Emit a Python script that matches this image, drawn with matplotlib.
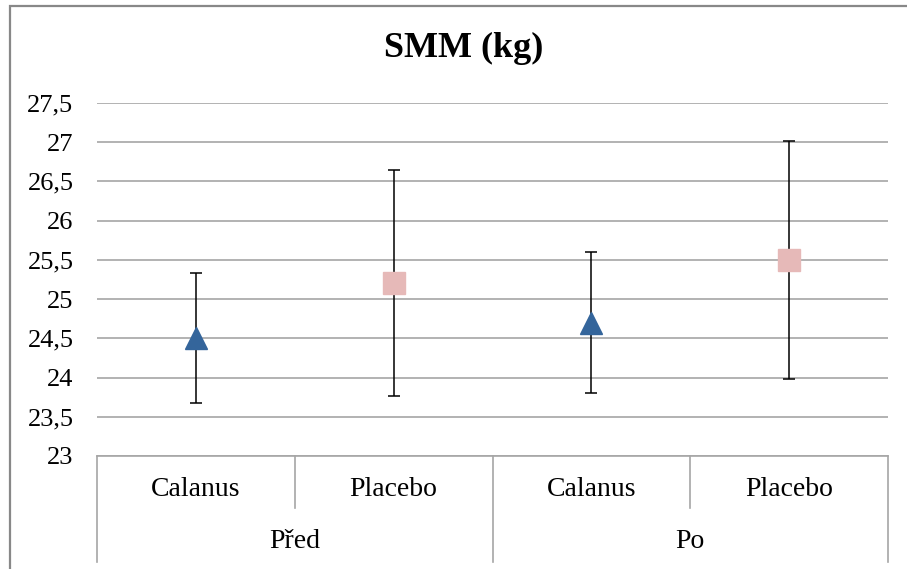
import numpy as np
import matplotlib
matplotlib.use('Agg')
import matplotlib.pyplot as plt
import matplotlib.transforms as mtransforms
from matplotlib.patches import Rectangle
from matplotlib.ticker import FuncFormatter, MultipleLocator

plt.rcParams['font.family'] = ['Liberation Serif', 'DejaVu Serif']

# data
groups = ['Před', 'Po']
treatments = ['Calanus', 'Placebo', 'Calanus', 'Placebo']
means = [24.5, 25.2, 24.7, 25.5]
sds = [0.83, 1.44, 0.90, 1.52]

blue = '#34659b'
pink = '#e6b9b8'
grid_c = '#a6a6a6'

fig = plt.figure(figsize=(9.07, 5.69), dpi=100)
W, H = 907, 569

# outer chart border (cut off at right/bottom like the reference)
fig.patches.append(Rectangle((10 / W, -0.5), 2.0, 1.5 - 5.5 / H,
                             transform=fig.transFigure, fill=False,
                             ec='#888888', lw=1.6))

ax = fig.add_axes([97 / W, (H - 456) / H, (888 - 97) / W, (456 - 103) / H])

x = np.arange(len(treatments))
for i in x:
    ax.errorbar(x[i], means[i], yerr=sds[i], fmt='none', ecolor='black',
                elinewidth=1.1, capsize=4.6, capthick=1.1, zorder=3)
    if treatments[i] == 'Calanus':
        ax.plot(x[i], means[i], marker='^', ms=16, color=blue, zorder=4, ls='none')
    else:
        ax.plot(x[i], means[i], marker='s', ms=16, color=pink, zorder=4, ls='none')

ax.set_xlim(-0.5, len(treatments) - 0.5)
ax.set_ylim(23, 27.5)
ax.yaxis.set_major_locator(MultipleLocator(0.5))
ax.yaxis.set_major_formatter(FuncFormatter(lambda v, p: ('%g' % v).replace('.', ',')))
ax.yaxis.grid(True, color=grid_c, lw=1.2)
ax.set_axisbelow(True)
ax.tick_params(axis='y', length=0, pad=17, labelsize=19)
ax.set_xticks([])
for s in ['top', 'right', 'left']:
    ax.spines[s].set_visible(False)
ax.spines['bottom'].set_color(grid_c)
ax.spines['bottom'].set_linewidth(1.2)

# multi-level category axis
trans = mtransforms.blended_transform_factory(ax.transData, ax.transAxes)
ah = 456 - 103
y_lab1 = -(490 - 456) / ah
y_lab2 = -(542 - 456) / ah
y_end_long = -(562 - 456) / ah
y_end_short = -(508 - 456) / ah
for i, t in enumerate(treatments):
    ax.text(x[i], y_lab1, t, transform=trans, ha='center', va='center', fontsize=20)
for g, name in enumerate(groups):
    ax.text(2 * g + 0.5, y_lab2, name, transform=trans, ha='center', va='center', fontsize=20)
for xv, yend in [(-0.5, y_end_long), (0.5, y_end_short), (1.5, y_end_long),
                 (2.5, y_end_short), (3.5, y_end_long)]:
    ax.plot([xv, xv], [0, yend], transform=trans, color=grid_c, lw=1.2, clip_on=False)

fig.text(464 / W, 1 - 48 / H, 'SMM (kg)', ha='center', va='center',
         fontsize=26, fontweight='bold')

fig.savefig('out.png', dpi=100)
